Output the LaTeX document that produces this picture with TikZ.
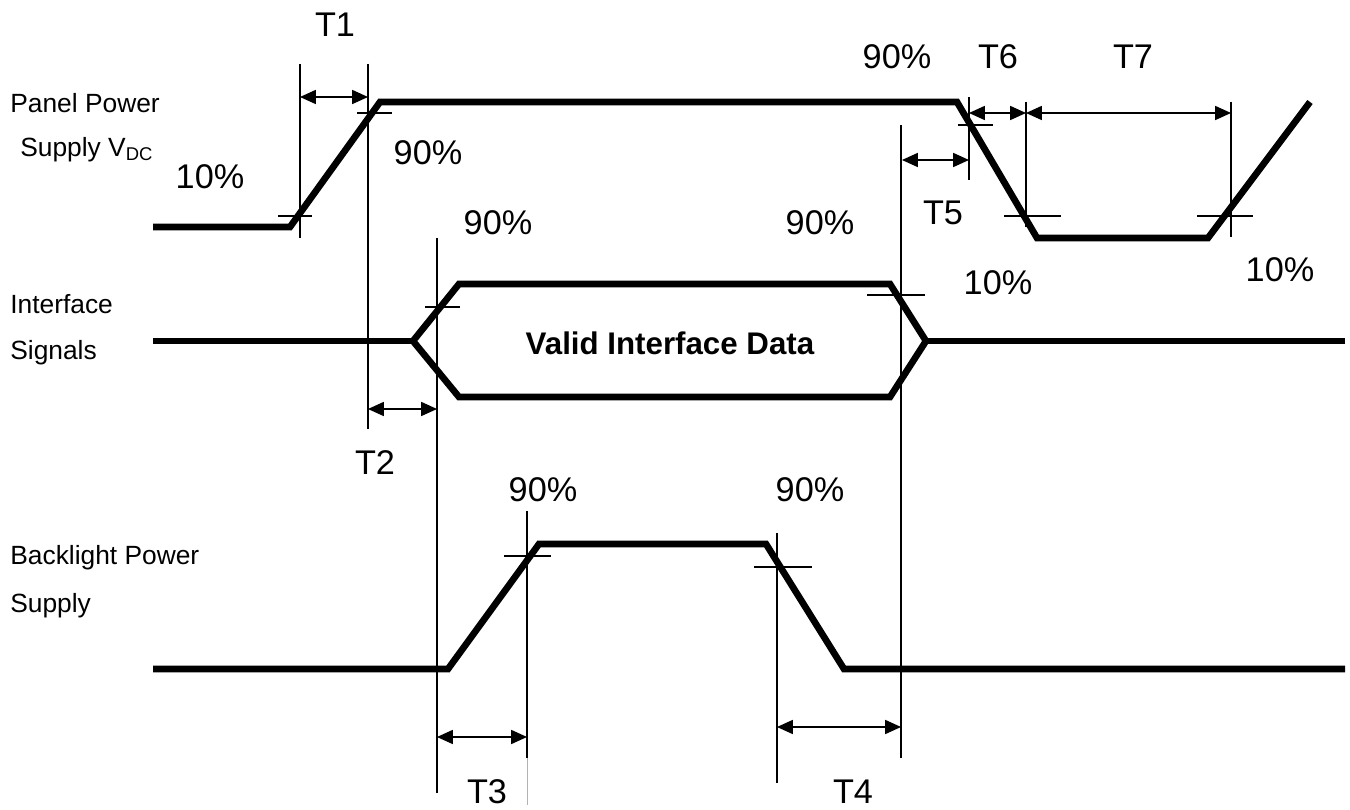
\documentclass[tikz,border=0pt]{standalone}
\usepackage{fontspec}
\setmainfont{Liberation Sans}
\usetikzlibrary{arrows.meta}

\begin{document}
\begin{tikzpicture}[x=0.02cm, y=-0.02cm]
	\tikzstyle{signal}=[line width=3.8pt]
	\tikzstyle{guide}=[line width=0.7pt]
	\tikzstyle{dim}=[guide, {Triangle[length=9pt,width=8pt]}-{Triangle[length=9pt,width=8pt]}]
	\tikzstyle{annot}=[font=\fontsize{19.5pt}{23pt}\selectfont, inner sep=0pt]
	\tikzstyle{signame}=[font=\fontsize{15pt}{18pt}\selectfont, anchor=west, inner sep=0pt]

	\useasboundingbox (0,0) rectangle (1350,810);

	% Draw the signal names
	\node[signame] (panel-1) at (10,103) {Panel Power};
	\node[signame] (panel-2) at (20,150) {Supply V\textsubscript{DC}};
	\node[signame] (iface-1) at (10,304) {Interface};
	\node[signame] (iface-2) at (10,353) {Signals};
	\node[signame] (bl-1) at (10,558) {Backlight Power};
	\node[signame] (bl-2) at (10,606) {Supply};

	% Draw the waveforms
	\draw[signal] (153,227) -- (290,227) -- (380,102) -- (957,102) -- (1037,238)
		-- (1208,238) -- (1310,102);
	\draw[signal] (153,341) -- (413,341);
	\draw[signal] (413,341) -- (459,284) -- (890,284) -- (926,341) -- (890,397)
		-- (459,397) -- cycle;
	\draw[signal] (926,341) -- (1345,341);
	\draw[signal] (153,669) -- (448,669) -- (539,544) -- (766,544) -- (844,669)
		-- (1345,669);
	\node[font=\bfseries\fontsize{17.8pt}{21pt}\selectfont, inner sep=0pt] (data) at (670,343) {Valid Interface Data};

	% Draw the reference lines
	\foreach \x / \ya / \yb in {300/64/238, 368/64/429, 437/238/793, 527/511/758,
		777/533/783, 901/125/758, 969/97/180, 1026/102/227, 1231/102/237}
	\draw[guide] (\x,\ya) -- (\x,\yb);
	\draw[line width=0.5pt, black!30] (527,758) -- (527,805);

	% Draw the 10% / 90% ticks
	\foreach \y / \xa / \xb in {216/278/312, 113/357/392, 307/425/460, 295/867/925,
		556/504/551, 567/754/812, 125/958/993, 216/1004/1061, 216/1197/1253}
	\draw[guide] (\xa,\y) -- (\xb,\y);

	% Draw the timing arrows
	\foreach \name / \xa / \xb / \y in {T1/300/368/97, T2/368/437/409, T3/437/527/737,
		T4/777/901/727, T5/902/969/160, T6/969/1026/113, T7/1026/1231/113}
	{
		\coordinate (\name-a) at (\xa,\y);
		\coordinate (\name-b) at (\xb,\y);
		\draw[dim] (\name-a) -- (\name-b);
	}

	% Annotate the timings
	\node[annot] (lT1) at (335,25) {T1};
	\node[annot] (lT2) at (375,463) {T2};
	\node[annot] (lT3) at (487,792) {T3};
	\node[annot] (lT4) at (853,792) {T4};
	\node[annot] (lT5) at (943,213) {T5};
	\node[annot] (lT6) at (998,57) {T6};
	\node[annot] (lT7) at (1133,57) {T7};

	% Annotate the levels
	\node[annot] (p-1) at (210,177) {10\%};
	\node[annot] (p-2) at (428,153) {90\%};
	\node[annot] (p-3) at (897,57) {90\%};
	\node[annot] (p-4) at (998,283) {10\%};
	\node[annot] (p-5) at (1280,270) {10\%};
	\node[annot] (i-1) at (498,223) {90\%};
	\node[annot] (i-2) at (820,223) {90\%};
	\node[annot] (b-1) at (543,490) {90\%};
	\node[annot] (b-2) at (810,490) {90\%};
\end{tikzpicture}
\end{document}
